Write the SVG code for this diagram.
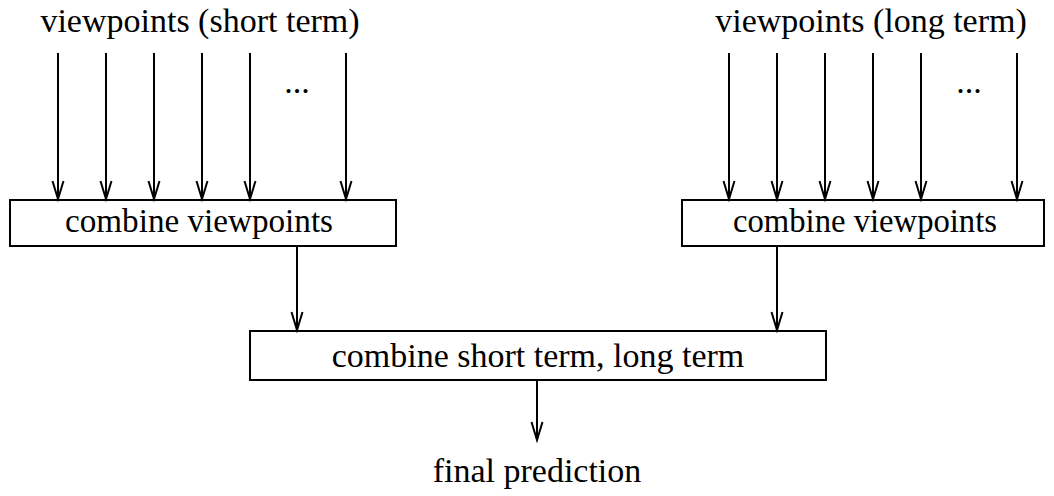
<svg xmlns="http://www.w3.org/2000/svg" width="1054" height="496" viewBox="0 0 1054 496">
<style>
text{font-family:"Liberation Serif","Times New Roman",serif;font-size:34px;fill:#000;text-anchor:middle}
.box{fill:#fff;stroke:#000;stroke-width:2}
.c line{stroke:#000;stroke-width:2;marker-end:url(#ah)}
</style>
<defs>
<marker id="ah" markerUnits="userSpaceOnUse" markerWidth="24" markerHeight="16" viewBox="-20 -8 24 16" refX="0" refY="0" orient="auto" overflow="visible">
<path d="M-18,-5.5 L0,0 L-18,5.5" fill="none" stroke="#000" stroke-width="2"/>
</marker>
</defs>
<rect width="1054" height="496" fill="#fff"/>
<g id="label-short"><text x="200" y="32">viewpoints (short term)</text><text x="297" y="93">...</text></g>
<g id="label-long"><text x="871" y="32">viewpoints (long term)</text><text x="969" y="93">...</text></g>
<g id="combine-short"><rect class="box" x="10" y="200" width="386" height="46"/><text x="199" y="232" textLength="268" lengthAdjust="spacingAndGlyphs">combine viewpoints</text></g>
<g id="combine-long"><rect class="box" x="682" y="200" width="362" height="46"/><text x="865" y="232" textLength="264" lengthAdjust="spacingAndGlyphs">combine viewpoints</text></g>
<g id="combine-all"><rect class="box" x="250" y="331" width="576" height="49"/><text x="538" y="367">combine short term, long term</text></g>
<g id="final"><text x="537" y="482">final prediction</text></g>
<g id="connectors" class="c">
<line x1="58" y1="53" x2="58" y2="199"/>
<line x1="106" y1="53" x2="106" y2="199"/>
<line x1="154" y1="53" x2="154" y2="199"/>
<line x1="202" y1="53" x2="202" y2="199"/>
<line x1="250" y1="53" x2="250" y2="199"/>
<line x1="346" y1="53" x2="346" y2="199"/>
<line x1="729" y1="53" x2="729" y2="199"/>
<line x1="777" y1="53" x2="777" y2="199"/>
<line x1="825" y1="53" x2="825" y2="199"/>
<line x1="873" y1="53" x2="873" y2="199"/>
<line x1="921" y1="53" x2="921" y2="199"/>
<line x1="1017" y1="53" x2="1017" y2="199"/>
<line x1="297" y1="246" x2="297" y2="330"/>
<line x1="777" y1="246" x2="777" y2="330"/>
<line x1="537" y1="380" x2="537" y2="440"/>
</g>
</svg>
